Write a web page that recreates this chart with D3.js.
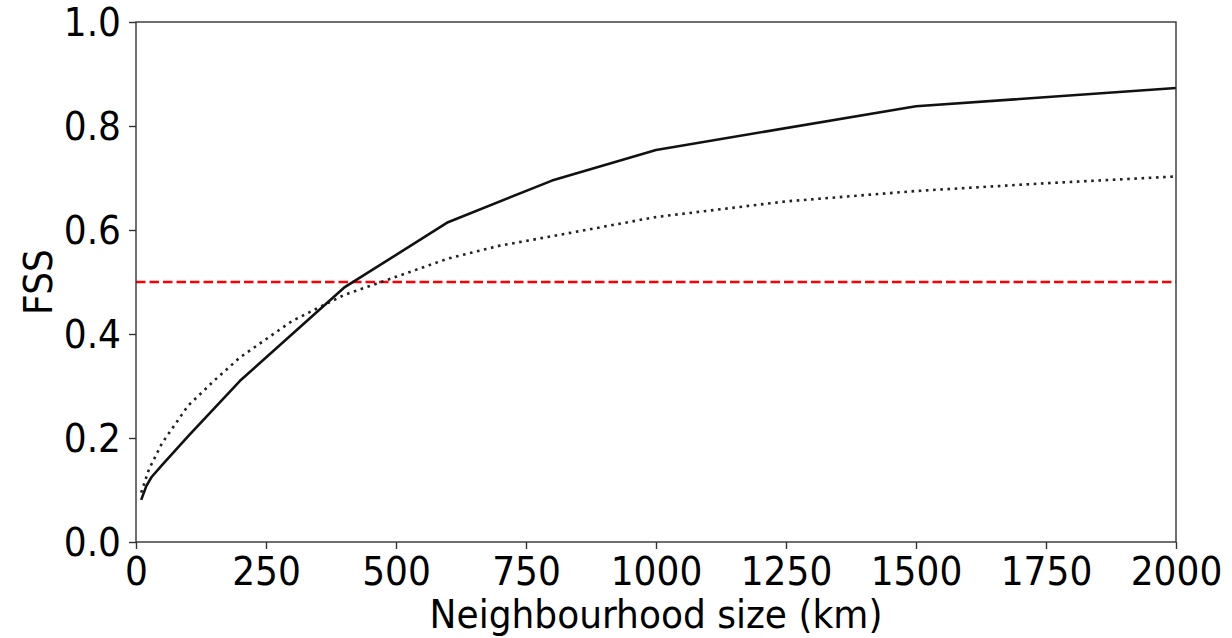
<!DOCTYPE html>
<html>
<head>
<meta charset="utf-8">
<script src="https://cdn.jsdelivr.net/npm/d3@7"></script>
<style>
  body { margin: 0; background: #fff; }
  svg { display: block; }
  text { font-family: 'DejaVu Sans', sans-serif; fill: #000; }
</style>
</head>
<body>
<svg id="chart"></svg>
<script>
// neighbourhood sizes (km) and FSS values
var solid_x = [10, 20, 30, 50, 100, 200, 400, 600, 800, 1000, 1500, 2000];
var solid_y = [0.081, 0.108, 0.125, 0.148, 0.203, 0.31, 0.489, 0.615, 0.695, 0.754, 0.838, 0.873];

var dotted_x = [10, 25, 50, 100, 150, 200, 300, 400, 500, 600, 700, 800, 1000, 1250, 1500, 1750, 2000];
var dotted_y = [0.095, 0.14, 0.19, 0.262, 0.31, 0.355, 0.425, 0.475, 0.51, 0.545, 0.57, 0.588, 0.625, 0.655, 0.675, 0.69, 0.703];

var threshold = 0.5;

var x_ticks = [0, 250, 500, 750, 1000, 1250, 1500, 1750, 2000];
var y_ticks = [0.0, 0.2, 0.4, 0.6, 0.8, 1.0];

var W = 1232, H = 638;
var margin = { left: 136, right: 56, top: 22, bottom: 96 };
var font_size = 36, stretch = 1.1;

var svg = d3.select('#chart');
svg.attr('width', W).attr('height', H);

var x = d3.scaleLinear().domain([0, 2000]).range([margin.left, W - margin.right]);
var y = d3.scaleLinear().domain([0, 1]).range([H - margin.bottom, margin.top]);

var line = d3.line().x(function(d){ return x(d[0]); }).y(function(d){ return y(d[1]); });

// threshold line
svg.append('line')
    .attr('x1', x(0)).attr('x2', x(2000))
    .attr('y1', y(threshold)).attr('y2', y(threshold))
    .style('stroke', '#ff0000').style('stroke-width', 2.5)
    .style('stroke-dasharray', '9.5,4');

svg.append('path')
    .datum(d3.zip(dotted_x, dotted_y))
    .attr('d', line)
    .style('fill', 'none').style('stroke', '#222').style('stroke-width', 2.6)
    .style('stroke-dasharray', '2.6,4.6');

svg.append('path')
    .datum(d3.zip(solid_x, solid_y))
    .attr('d', line)
    .style('fill', 'none').style('stroke', '#111').style('stroke-width', 2.6)
    .style('stroke-linejoin', 'round');

// axes
var xAxis = svg.append('g')
    .attr('transform', 'translate(0,' + y(0) + ')')
    .call(d3.axisBottom(x).tickValues(x_ticks).tickSize(7).tickFormat(d3.format('d')));

var yAxis = svg.append('g')
    .attr('transform', 'translate(' + x(0) + ',0)')
    .call(d3.axisLeft(y).tickValues(y_ticks).tickSize(7).tickFormat(d3.format('.1f')));

[xAxis, yAxis].forEach(function(g){
    g.select('.domain').remove();
    g.selectAll('line').style('stroke', '#333').style('stroke-width', 1.4);
    g.selectAll('text').style('font-size', font_size + 'px').attr('fill', '#000');
});
// text is a little taller than wide in the reference
xAxis.selectAll('text').attr('y', null).attr('dy', null)
    .attr('transform', 'translate(0,43) scale(1,' + stretch + ')');
yAxis.selectAll('text').attr('x', null).attr('dy', null)
    .attr('transform', 'translate(-15,13.5) scale(1,' + stretch + ')');

// frame
svg.append('rect')
    .attr('x', x(0)).attr('y', y(1))
    .attr('width', x(2000) - x(0)).attr('height', y(0) - y(1))
    .style('fill', 'none').style('stroke', '#333').style('stroke-width', 1.4);

// labels
svg.append('text')
    .attr('transform', 'translate(' + (x(0) + x(2000)) / 2 + ',628) scale(1,' + stretch + ')')
    .attr('text-anchor', 'middle')
    .style('font-size', font_size + 'px')
    .text('Neighbourhood size (km)');

svg.append('text')
    .attr('transform', 'translate(52,' + (y(0) + y(1)) / 2 + ') rotate(-90) scale(1,' + stretch + ')')
    .attr('text-anchor', 'middle')
    .style('font-size', font_size + 'px')
    .text('FSS');
</script>
</body>
</html>
